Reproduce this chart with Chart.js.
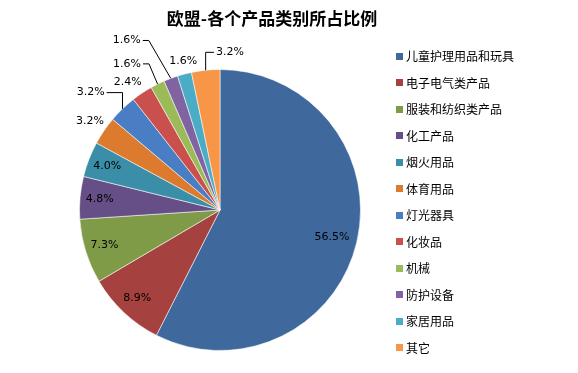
<!DOCTYPE html>
<html>
<head>
<meta charset="utf-8">
<script src="https://cdn.jsdelivr.net/npm/chart.js@4.4.1/dist/chart.umd.min.js"></script>
<style>
  html, body { margin:0; padding:0; background:#fff; }
  #wrap { position:relative; width:578px; height:373px; overflow:hidden; }
  #wrap canvas { position:absolute; left:0; top:0; }
  #title { position:absolute; left:0; width:544px; top:6px; text-align:center; font:bold 17px "Noto Sans CJK SC", sans-serif; color:#000; line-height:24px; }
  #legend { position:absolute; left:396px; top:43px; font:12px "Noto Sans CJK SC", sans-serif; color:#000; }
  #legend .row { height:26.5px; line-height:20px; display:flex; align-items:center; }
  #legend .sw { width:7px; height:7px; margin-right:3px; display:inline-block; }
</style>
</head>
<body>
<div id="wrap">
  <canvas id="pie" width="578" height="373"></canvas>
  <div id="title">欧盟-各个产品类别所占比例</div>
  <div id="legend"></div>
</div>
<script>
const categories = ['儿童护理用品和玩具','电子电气类产品','服装和纺织类产品','化工产品','烟火用品','体育用品','灯光器具','化妆品','机械','防护设备','家居用品','其它'];
const shares = [56.5, 8.9, 7.3, 4.8, 4.0, 3.2, 3.2, 2.4, 1.6, 1.6, 1.6, 3.2];
const shareLabels = ['56.5%','8.9%','7.3%','4.8%','4.0%','3.2%','3.2%','2.4%','1.6%','1.6%','1.6%','3.2%'];

const colors = ['#3F699D','#A5413E','#7F9B48','#664F87','#3A8EA7','#DC7A2E','#4A7EC4','#C9504D','#9BBB59','#8064A2','#4BACC6','#F79646'];
// label placement: inside slices for the big ones, outside (with optional nudge + leader) for the rest
const insideCount = 5;
const labelNudge = {5:[0,0], 6:[-20,-4], 7:[-5,3], 8:[-23,-5], 9:[-38,-22], 10:[3,4], 11:[26,-1]};
const withLeader = {6:'elbow', 8:'short', 9:'short', 11:'elbow'};

document.getElementById('legend').innerHTML = categories.map((c,i)=>
  `<div class="row"><span class="sw" style="background:${colors[i]}"></span><span>${c}</span></div>`).join('');

const labelPlugin = {
  id:'sliceLabels',
  afterDatasetsDraw(chart) {
    const ctx = chart.ctx;
    const arcs = chart.getDatasetMeta(0).data;
    ctx.save();
    ctx.font = '11px "DejaVu Sans", sans-serif';
    ctx.fillStyle = '#000';
    ctx.textAlign = 'center';
    ctx.textBaseline = 'middle';
    ctx.strokeStyle = '#000';
    ctx.lineWidth = 1;
    arcs.forEach((a,i) => {
      const mid = (a.startAngle + a.endAngle) / 2;
      const R = a.outerRadius;
      const dx = Math.cos(mid), dy = Math.sin(mid);
      if (i < insideCount) {
        const r = R * (i === 0 ? 0.82 : 0.86);
        ctx.fillText(shareLabels[i], a.x + dx*r, a.y + dy*r);
        return;
      }
      const n = labelNudge[i] || [0,0];
      const lx = a.x + dx*(R+17) + n[0];
      const ly = a.y + dy*(R+17) + n[1];
      ctx.fillText(shareLabels[i], lx, ly);
      if (withLeader[i]) {
        const w = ctx.measureText(shareLabels[i]).width;
        const ex = a.x + dx*R, ey = a.y + dy*R;
        const side = ex > lx ? 1 : -1;
        const sx = lx + side*(w/2 + 2);
        const kx = withLeader[i] === 'elbow' ? ex : sx + side*6;
        ctx.beginPath();
        ctx.moveTo(sx, ly);
        ctx.lineTo(kx, ly);
        ctx.lineTo(ex, ey);
        ctx.stroke();
      }
    });
    ctx.restore();
  }
};

new Chart(document.getElementById('pie'), {
  type:'pie',
  data:{ labels:categories, datasets:[{ data:shares, backgroundColor:colors, borderColor:'rgba(255,255,255,0.55)', borderWidth:1 }] },
  options:{
    responsive:false, animation:false,
    layout:{ padding:{ left:79, right:217, top:69, bottom:22 } },
    plugins:{ legend:{ display:false }, tooltip:{ enabled:false } }
  },
  plugins:[labelPlugin]
});
</script>
</body>
</html>
